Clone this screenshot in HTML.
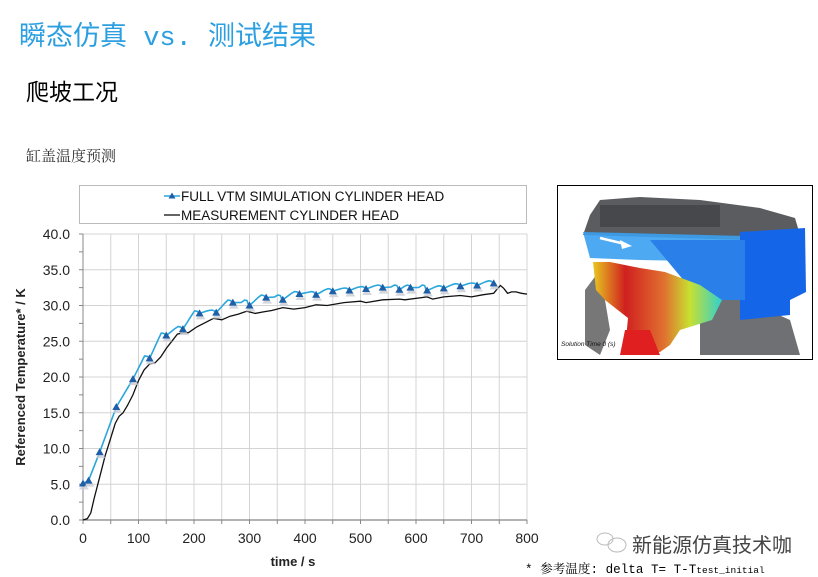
<!DOCTYPE html>
<html><head><meta charset="utf-8"><style>
body{margin:0;background:#fff;width:818px;height:576px;overflow:hidden;position:relative;font-family:"Liberation Sans","Noto Sans CJK SC",sans-serif}
.t{position:absolute;white-space:nowrap}
</style></head><body>
<div class="t" style="left:19px;top:14px;font-size:27px;color:#2c9fe0;font-family:'Liberation Mono','Noto Sans CJK SC',monospace;letter-spacing:0px">瞬态仿真 vs. 测试结果</div>
<div class="t" style="left:26px;top:73px;font-size:23px;color:#000">爬坡工况</div>
<div class="t" style="left:26px;top:145px;font-size:15px;color:#333;font-family:'Liberation Serif','Noto Serif CJK SC',serif">缸盖温度预测</div>
<div class="t" style="left:632px;top:529px;font-size:20px;color:#444">新能源仿真技术咖</div>
<div class="t" style="left:525px;top:558px;font-size:12.6px;color:#000;font-family:'Liberation Mono','Noto Serif CJK SC',monospace">* 参考温度:  delta T= T-T<span style="font-size:9.5px">test_initial</span></div>
<svg id="s" width="818" height="576" style="position:absolute;left:0;top:0" xmlns="http://www.w3.org/2000/svg">
<g fill="none" stroke="#bbb"><ellipse cx="605" cy="539" rx="8" ry="6"/><ellipse cx="617" cy="545" rx="9" ry="7"/></g>
<rect x="79.5" y="185.5" width="447" height="38" fill="#fff" stroke="#bbb"/>
<line x1="164" y1="196" x2="180" y2="196" stroke="#2aa6dc" stroke-width="1.5"/><polygon points="172,192.5 175.5,198.5 168.5,198.5" fill="#1f5fa8"/>
<text x="181" y="201" font-size="13.5" fill="#111" font-family="Liberation Sans,sans-serif">FULL VTM SIMULATION CYLINDER HEAD</text>
<line x1="164" y1="215" x2="180" y2="215" stroke="#111" stroke-width="1.3"/>
<text x="181" y="220" font-size="13.5" fill="#111" font-family="Liberation Sans,sans-serif">MEASUREMENT CYLINDER HEAD</text>
<g id="grid"></g>
<text transform="translate(25,377) rotate(-90)" text-anchor="middle" font-size="13" font-weight="bold" fill="#222" font-family="Liberation Sans,sans-serif">Referenced Temperature* / K</text>
<text x="293" y="566" text-anchor="middle" font-size="13" font-weight="bold" fill="#222" font-family="Liberation Sans,sans-serif">time / s</text>
<rect x="557.5" y="185.5" width="255" height="174" fill="#fff" stroke="#000"/>
<g>
<path d="M590 215 L600 200 L640 197 L700 200 L760 208 L795 218 L800 235 L745 240 L583 235 Z" fill="#5a5c60"/>
<rect x="600" y="205" width="120" height="22" fill="#46484c"/>
<path d="M585 290 L600 270 L610 330 L600 355 L585 345 Z" fill="#777"/>
<path d="M700 300 L745 300 L790 320 L800 355 L700 355 Z" fill="#6e7074"/>
<path d="M583 232 L745 236 L745 262 L640 260 L590 258 Z" fill="#3aa0f0" opacity=".9"/>
<path d="M740 232 L805 228 L806 292 L790 300 L790 315 L740 320 Z" fill="#1565e8"/>
<path d="M650 240 L745 240 L745 300 L700 300 Z" fill="#2a7fe8"/>
<defs><linearGradient id="hg" x1="0" y1="0" x2="1" y2="0"><stop offset="0" stop-color="#e8c820"/><stop offset=".25" stop-color="#d02020"/><stop offset=".55" stop-color="#e07030"/><stop offset=".75" stop-color="#c8e030"/><stop offset="1" stop-color="#30d0d0"/></linearGradient></defs>
<path d="M593 262 L610 262 L640 268 L665 272 L700 285 L722 300 L712 320 L680 330 L670 345 L660 352 L640 355 L625 350 L628 318 L605 300 L596 290 Z" fill="url(#hg)"/>
<path d="M625 330 L650 330 L660 355 L620 355 Z" fill="#e02020"/>
<path d="M600 238 L625 244" stroke="#fff" stroke-width="2.5"/><polygon points="632,246 620,240 622,249" fill="#fff"/>
<text x="561" y="346" font-size="6.5" font-style="italic" fill="#111" font-family="Liberation Sans,sans-serif">Solution Time 0 (s)</text>
</g>
<g id="plot"></g>
</svg>
<script>
(function(){
var X=t=>83+t*0.555,Y=v=>520-v*7.15,ns="http://www.w3.org/2000/svg",g=document.getElementById('grid'),p=document.getElementById('plot');
function el(par,n,a,txt){var e=document.createElementNS(ns,n);for(var k in a)e.setAttribute(k,a[k]);if(txt!=null)e.textContent=txt;par.appendChild(e);return e}
el(g,'rect',{x:83,y:234,width:444,height:286,fill:'#fff'});
for(var t=50;t<=800;t+=50)el(g,'line',{x1:X(t),x2:X(t),y1:234,y2:520,stroke:'#d4d4d4'});
for(var v=5;v<=40;v+=5)el(g,'line',{x1:83,x2:527,y1:Y(v),y2:Y(v),stroke:'#d4d4d4'});
el(g,'line',{x1:83,x2:83,y1:234,y2:520,stroke:'#888'});el(g,'line',{x1:83,x2:527,y1:520,y2:520,stroke:'#666'});
for(var v=0;v<=40;v+=2.5){el(g,'line',{x1:79,x2:83,y1:Y(v),y2:Y(v),stroke:'#888'});if(v%5==0)el(g,'text',{x:70,y:Y(v)+5,'text-anchor':'end','font-size':14,fill:'#222','font-family':'Liberation Sans,sans-serif'},v.toFixed(1))}
for(var t=0;t<=800;t+=50){el(g,'line',{x1:X(t),x2:X(t),y1:520,y2:524,stroke:'#888'});if(t%100==0)el(g,'text',{x:X(t),y:543,'text-anchor':'middle','font-size':14,fill:'#222','font-family':'Liberation Sans,sans-serif'},t)}
var m=[[0,0],[8,0.2],[14,1],[20,3],[30,6],[40,9],[50,11.5],[58,13.5],[65,14.5],[72,15],[80,16],[90,17.5],[100,19.5],[110,21],[120,21.8],[130,22],[140,22.8],[150,24],[160,25],[170,26],[180,26.2],[190,26.2],[205,27],[220,27.6],[235,28.2],[250,28],[265,28.5],[280,28.8],[295,29.2],[310,28.9],[325,29.1],[340,29.3],[360,29.7],[380,29.5],[400,29.7],[420,30.1],[440,30],[470,30.4],[500,30.6],[510,30.4],[540,30.8],[570,30.9],[580,30.8],[610,31.1],[620,31.2],[630,30.9],[650,31.2],[680,31.4],[700,31.2],[720,31.5],[740,31.7],[745,32.2],[752,32.8],[758,32.4],[765,31.7],[772,31.9],[780,31.9],[790,31.7],[800,31.6]];
var s=[[0,5.1],[10,5.5],[30,9.5],[60,15.8],[90,19.7],[120,22.6],[150,25.8],[180,26.7],[210,28.9],[240,29.0],[270,30.4],[300,30.0],[330,31.1],[360,30.8],[390,31.6],[420,31.5],[450,32.0],[480,32.1],[510,32.3],[540,32.5],[570,32.2],[590,32.5],[620,32.1],[650,32.4],[680,32.7],[710,32.8],[740,33.1]];
var sp=[];for(var i=0;i<s.length;i++){sp.push(s[i]);if(i<s.length-1&&s[i][0]>=90){var a=s[i],b=s[i+1],d=b[0]-a[0],A=a[1],B=b[1],M=Math.max(A,B);
sp.push([a[0]+d*0.25,A+(B-A)*0.35+0.15]);sp.push([a[0]+d*0.5,A+(B-A)*0.7+0.3]);sp.push([a[0]+d*0.7,M+0.35]);sp.push([a[0]+d*0.85,M+0.3]);sp.push([a[0]+d*0.93,B+0.15]);}}
function pts(a){return a.map(q=>X(q[0]).toFixed(1)+','+Y(q[1]).toFixed(1)).join(' ')}
el(p,'polyline',{points:pts(m),fill:'none',stroke:'#111','stroke-width':1.3});
el(p,'polyline',{points:pts(sp),fill:'none',stroke:'#2aa6dc','stroke-width':1.6,'stroke-linejoin':'round'});
s.forEach(q=>{var x=X(q[0]),y=Y(q[1]);el(p,'polygon',{points:(x+1)+','+(y-1)+' '+(x+6)+','+(y+6)+' '+(x-4)+','+(y+6),fill:'#c8ccd4',opacity:.8});el(p,'polygon',{points:x+','+(y-4)+' '+(x+4)+','+(y+3)+' '+(x-4)+','+(y+3),fill:'#1f5fa8'})});
})();
</script>
</body></html>
